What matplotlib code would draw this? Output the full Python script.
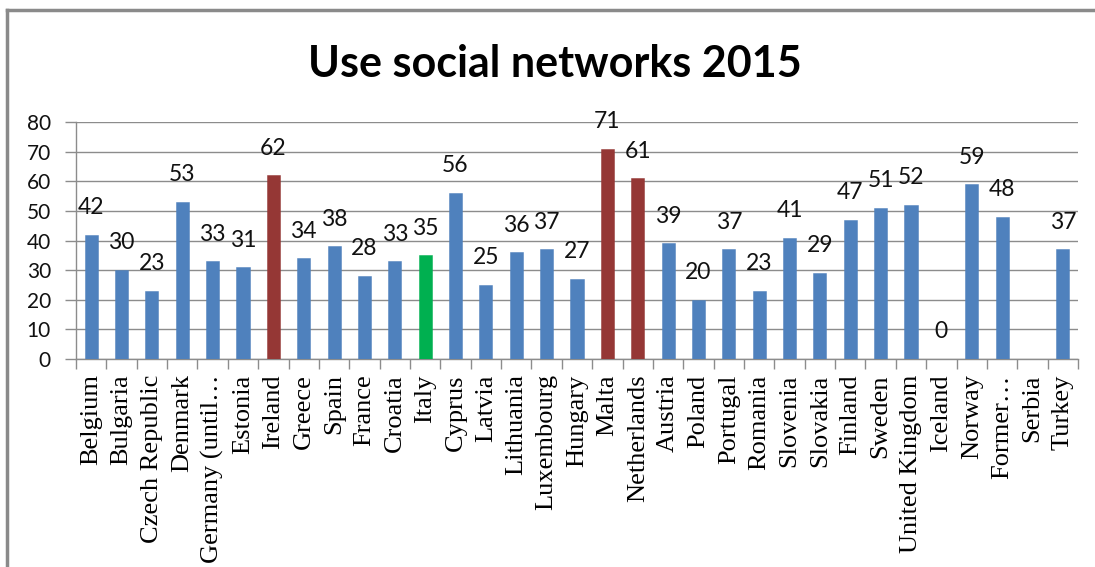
import numpy as np
import matplotlib
matplotlib.use('Agg')
import matplotlib.pyplot as plt
from matplotlib.lines import Line2D
from matplotlib.ticker import FixedLocator, NullFormatter

# ======================================
# Data
# ======================================
countries = ['Belgium', 'Bulgaria', 'Czech Republic', 'Denmark', 'Germany (until\u2026',
             'Estonia', 'Ireland', 'Greece', 'Spain', 'France', 'Croatia', 'Italy',
             'Cyprus', 'Latvia', 'Lithuania', 'Luxembourg', 'Hungary', 'Malta',
             'Netherlands', 'Austria', 'Poland', 'Portugal', 'Romania', 'Slovenia',
             'Slovakia', 'Finland', 'Sweden', 'United Kingdom', 'Iceland', 'Norway',
             'Former\u2026', 'Serbia', 'Turkey']
values = [42, 30, 23, 53, 33, 31, 62, 34, 38, 28, 33, 35, 56, 25, 36, 37, 27, 71,
          61, 39, 20, 37, 23, 41, 29, 47, 51, 52, 0, 59, 48, np.nan, 37]
highlight_red = ['Ireland', 'Malta', 'Netherlands']
highlight_green = ['Italy']

blue  = '#4F81BD'
red   = '#953735'
green = '#00B050'

colors = []
for c in countries:
    if c in highlight_red:
        colors.append(red)
    elif c in highlight_green:
        colors.append(green)
    else:
        colors.append(blue)

# ======================================
# Figure
# ======================================
fig = plt.figure(figsize=(10.95, 5.67), dpi=100)
ax = fig.add_axes([0.0694, 0.3668, 0.9151, 0.4180])

x = np.arange(len(countries))
ax.bar(x, np.nan_to_num(values), width=0.43, color=colors, zorder=3,
       edgecolor=[matplotlib.colors.to_rgba(c, 0.6) for c in colors], linewidth=0.6)

for xi, v in zip(x, values):
    if np.isnan(v):
        continue
    ax.annotate('{:d}'.format(int(v)), (xi, v), xytext=(0, 12), textcoords='offset points',
                ha='center', va='bottom', fontsize=16.5, family='Lato', color='#111111')

ax.set_xlim(-0.5, len(countries) - 0.5)
ax.set_ylim(0, 80)
ax.set_yticks(np.arange(0, 81, 10))
ax.yaxis.grid(True, color='#8C8C8C', linewidth=1.0, zorder=0)
ax.set_axisbelow(True)

for lab in ax.get_yticklabels():
    lab.set_family('Lato')
    lab.set_fontsize(15)
    lab.set_color('#111111')
ax.tick_params(axis='y', length=8, width=1, color='#8C8C8C', pad=10)

# category labels centred under bars, tick marks on the boundaries
ax.set_xticks(x)
ax.set_xticklabels(countries, rotation=90, family='Liberation Serif', fontsize=19,
                   va='top', ha='center')
ax.tick_params(axis='x', which='major', length=0, pad=11)
ax.xaxis.set_minor_locator(FixedLocator(np.arange(-0.5, len(countries), 1.0)))
ax.xaxis.set_minor_formatter(NullFormatter())
ax.tick_params(axis='x', which='minor', length=7, width=1, color='#8C8C8C')

for side in ['top', 'right']:
    ax.spines[side].set_visible(False)
for side in ['left', 'bottom']:
    ax.spines[side].set_color('#8C8C8C')
    ax.spines[side].set_linewidth(1.0)

fig.text(0.507, 0.888, 'Use social networks 2015', ha='center', va='center',
         fontsize=31, fontweight='bold', family='Lato')

# outer chart frame
fig.add_artist(Line2D([0.0065, 1.0], [0.982, 0.982], transform=fig.transFigure,
                      color='#8A8A8A', linewidth=2.5))
fig.add_artist(Line2D([0.0065, 0.0065], [0.0, 0.982], transform=fig.transFigure,
                      color='#8A8A8A', linewidth=2.5))

fig.savefig('out.png', dpi=100)
